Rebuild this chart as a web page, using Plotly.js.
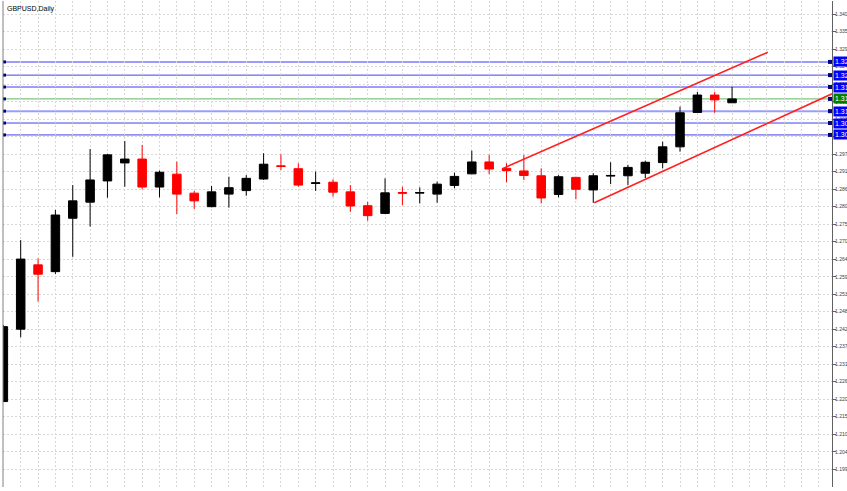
<!DOCTYPE html>
<html>
<head>
<meta charset="utf-8">
<script src="https://cdn.plot.ly/plotly-3.0.1.min.js"></script>
<style>
html,body{margin:0;padding:0;background:#fff;}
#chart{width:847px;height:491px;}
</style>
</head>
<body>
<div id="chart"></div>
<script>
// ---- data ----
const chartTitle = "GBPUSD,Daily";
const barIndex = [0,1,2,3,4,5,6,7,8,9,10,11,12,13,14,15,16,17,18,19,20,21,22,23,24,25,26,27,28,29,30,31,32,33,34,35,36,37,38,39,40,41,42];
const openPrices = [1.2200,1.2425,1.2625,1.2604,1.2770,1.2820,1.2886,1.2942,1.2954,1.2867,1.2907,1.2848,1.2806,1.2845,1.2856,1.2892,1.2933,1.2924,1.2878,1.2882,1.2852,1.2809,1.2785,1.2850,1.2848,1.2845,1.2872,1.2908,1.2945,1.2925,1.2917,1.2902,1.2844,1.2897,1.2858,1.2901,1.2902,1.2910,1.2943,1.2992,1.3099,1.3153,1.3129];
const highPrices = [1.2438,1.2702,1.2645,1.2796,1.2873,1.2985,1.2970,1.3010,1.2998,1.2918,1.2946,1.2855,1.2870,1.2899,1.2904,1.2972,1.2969,1.2941,1.2915,1.2891,1.2873,1.2821,1.2894,1.2868,1.2866,1.2884,1.2912,1.2980,1.2967,1.2941,1.2967,1.2925,1.2904,1.2899,1.2910,1.2944,1.2936,1.2949,1.3008,1.3117,1.3163,1.3163,1.3179];
const lowPrices = [1.2199,1.2400,1.2511,1.2597,1.2650,1.2744,1.2834,1.2868,1.2860,1.2835,1.2783,1.2799,1.2804,1.2803,1.2840,1.2889,1.2920,1.2868,1.2855,1.2837,1.2790,1.2762,1.2783,1.2811,1.2816,1.2818,1.2863,1.2907,1.2907,1.2882,1.2889,1.2816,1.2835,1.2829,1.2818,1.2876,1.2873,1.2895,1.2925,1.2977,1.3099,1.3098,1.3129];
const closePrices = [1.2433,1.2643,1.2596,1.2780,1.2824,1.2889,1.2967,1.2954,1.2867,1.2913,1.2845,1.2824,1.2852,1.2865,1.2894,1.2938,1.2931,1.2873,1.2880,1.2851,1.2808,1.2778,1.2849,1.2848,1.2850,1.2876,1.2900,1.2945,1.2923,1.2918,1.2903,1.2833,1.2899,1.2860,1.2902,1.2903,1.2928,1.2944,1.2992,1.3098,1.3153,1.3138,1.3141];

const levelPrices = [1.3256,1.3215,1.3178,1.3141,1.3103,1.3066,1.3029];
const levelLabels = ["1.32560","1.32150","1.31780","1.31410","1.31030","1.30660","1.30290"];
const levelKinds = ["blue","blue","blue","green","blue","blue","blue"];

const upperChannelX = [28.8, 44.06];
const upperChannelY = [1.2925, 1.3286];
const lowerChannelX = [34.06, 47.76];
const lowerChannelY = [1.2818, 1.3157];

const tickValues = [1.1990,1.2044,1.2099,1.2153,1.2208,1.2262,1.2316,1.2371,1.2425,1.2480,1.2534,1.2588,1.2643,1.2697,1.2752,1.2806,1.2860,1.2915,1.2969,1.3024,1.3078,1.3132,1.3187,1.3241,1.3296,1.3350,1.3404];
const tickLabels = ["1.199","1.204","1.210","1.215","1.220","1.226","1.231","1.237","1.242","1.248","1.253","1.259","1.264","1.270","1.275","1.280","1.286","1.291","1.297","1.302","1.308","1.313","1.318","1.324","1.329","1.335","1.340"];

// ---- styling / build ----
const lineStyles = [
  {color:"#9c9cff", width:2},
  {color:"#4040ee", width:1},
  {color:"#9c9cff", width:2},
  {color:"#5cb85c", width:1},
  {color:"#9c9cff", width:2},
  {color:"#4040ee", width:1},
  {color:"#4040ee", width:1}
];

const traces = [
  {
    type: "candlestick",
    x: barIndex, open: openPrices, high: highPrices, low: lowPrices, close: closePrices,
    increasing: {line: {color: "#000000", width: 1}, fillcolor: "#000000"},
    decreasing: {line: {color: "#ff0000", width: 1}, fillcolor: "#ff0000"},
    whiskerwidth: 0,
    hoverinfo: "skip",
    showlegend: false
  },
  {
    type: "scatter", mode: "lines", x: upperChannelX, y: upperChannelY,
    line: {color: "#ff2020", width: 1.6}, hoverinfo: "skip", showlegend: false
  },
  {
    type: "scatter", mode: "lines", x: lowerChannelX, y: lowerChannelY,
    line: {color: "#ff2020", width: 1.6}, hoverinfo: "skip", showlegend: false
  }
];

const shapes = [];
const annotations = [];
levelPrices.forEach((p, i) => {
  const st = lineStyles[i];
  shapes.push({type: "line", xref: "paper", yref: "y", x0: 0, x1: 1, y0: p, y1: p,
    line: {color: st.color, width: st.width}, layer: "below"});
  shapes.push({type: "rect", xref: "paper", yref: "y", xsizemode: "pixel", ysizemode: "pixel",
    xanchor: 0, yanchor: p, x0: 0, x1: 3, y0: -1.5, y1: 1.5,
    fillcolor: "#000080", line: {width: 0}});
  shapes.push({type: "rect", xref: "paper", yref: "y", xsizemode: "pixel", ysizemode: "pixel",
    xanchor: 1, yanchor: p, x0: -4, x1: 0, y0: -2, y1: 2,
    fillcolor: "#000080", line: {width: 0}});
  annotations.push({
    xref: "paper", yref: "y", x: 1, y: p, xanchor: "left", yanchor: "middle", xshift: 1,
    text: levelLabels[i], showarrow: false,
    font: {family: "Arial, Liberation Sans, sans-serif", size: 7, color: "#ffffff"},
    bgcolor: levelKinds[i] === "green" ? "#008000" : "#0000ff",
    borderpad: 1
  });
});
shapes.push({type: "line", xref: "paper", yref: "paper", x0: 0, x1: 0, y0: 0, y1: 1,
  line: {color: "#808080", width: 1}});

annotations.push({
  xref: "paper", yref: "paper", x: 0, y: 1, xanchor: "left", yanchor: "top",
  xshift: 2, yshift: -2, text: chartTitle, showarrow: false,
  font: {family: "Arial, Liberation Sans, sans-serif", size: 7, color: "#000000"}
});

const layout = {
  width: 847, height: 491,
  margin: {l: 3, r: 15, t: 1, b: 4, pad: 0},
  paper_bgcolor: "#ffffff", plot_bgcolor: "#ffffff",
  showlegend: false,
  xaxis: {
    range: [-0.02, 47.76], showticklabels: false, ticks: "",
    tickmode: "linear", tick0: 0, dtick: 1,
    showgrid: true, gridcolor: "#d8d8d8", griddash: "2px,2px", gridwidth: 1,
    zeroline: false, showline: false, fixedrange: true,
    rangeslider: {visible: false}
  },
  yaxis: {
    side: "right", range: [1.19344, 1.34454],
    tickmode: "array", tickvals: tickValues, ticktext: tickLabels,
    ticks: "outside", ticklen: 3, tickcolor: "#606060", tickwidth: 1,
    ticklabelstandoff: -2,
    tickfont: {family: "Arial, Liberation Sans, sans-serif", size: 5, color: "#404040"},
    showgrid: true, gridcolor: "#d8d8d8", griddash: "2px,2px", gridwidth: 1,
    showline: true, linecolor: "#606060", linewidth: 1, mirror: false,
    zeroline: false, fixedrange: true
  },
  shapes: shapes,
  annotations: annotations
};

Plotly.newPlot("chart", traces, layout, {staticPlot: true, displayModeBar: false});
</script>
</body>
</html>
